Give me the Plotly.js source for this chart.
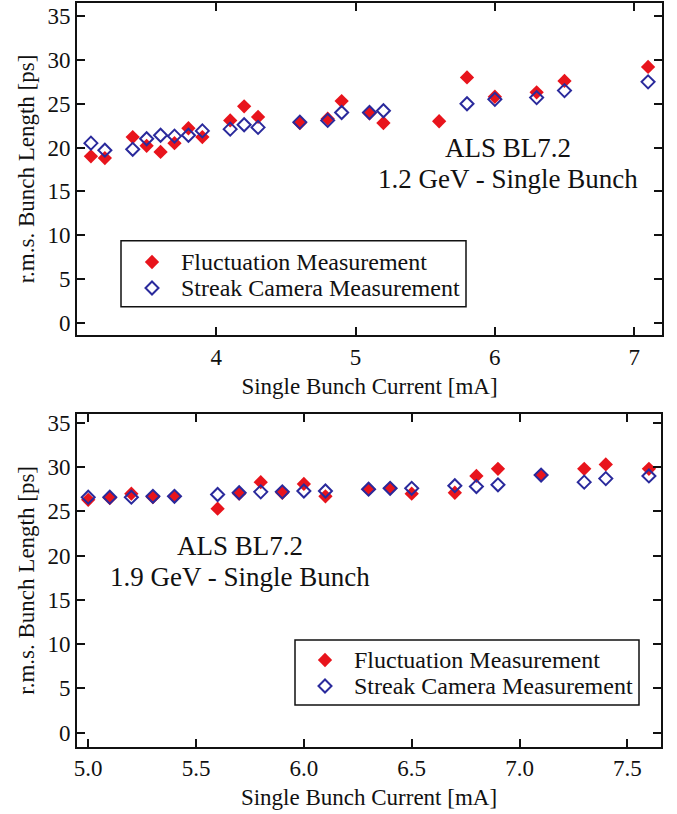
<!DOCTYPE html>
<html>
<head>
<meta charset="utf-8">
<script src="https://cdn.plot.ly/plotly-3.0.1.min.js"></script>
<style>html,body{margin:0;padding:0;background:#fff;}#chart{width:677px;height:814px;}</style>
</head>
<body>
<div id="chart"></div>
<script>
// Top panel: 1.2 GeV
const topFlucX = [3.1, 3.2, 3.4, 3.5, 3.6, 3.7, 3.8, 3.9, 4.1, 4.2, 4.3, 4.6, 4.8, 4.9, 5.1, 5.2, 5.6, 5.8, 6.0, 6.3, 6.5, 7.1];
const topFlucY = [19.0, 18.8, 21.2, 20.2, 19.5, 20.5, 22.2, 21.2, 23.1, 24.7, 23.5, 22.8, 23.3, 25.3, 23.9, 22.8, 23.0, 28.0, 25.8, 26.3, 27.6, 29.2];
const topStreakX = [3.1, 3.2, 3.4, 3.5, 3.6, 3.7, 3.8, 3.9, 4.1, 4.2, 4.3, 4.6, 4.8, 4.9, 5.1, 5.2, 5.8, 6.0, 6.3, 6.5, 7.1];
const topStreakY = [20.5, 19.7, 19.8, 21.0, 21.4, 21.3, 21.4, 21.9, 22.1, 22.6, 22.3, 22.9, 23.1, 24.0, 24.0, 24.2, 25.0, 25.5, 25.7, 26.5, 27.5];
// Bottom panel: 1.9 GeV
const botFlucX = [5.0, 5.1, 5.2, 5.3, 5.4, 5.6, 5.7, 5.8, 5.9, 6.0, 6.1, 6.3, 6.4, 6.5, 6.7, 6.8, 6.9, 7.1, 7.3, 7.4, 7.6];
const botFlucY = [26.3, 26.5, 27.0, 26.6, 26.7, 25.3, 27.0, 28.3, 27.1, 28.1, 26.7, 27.5, 27.6, 27.0, 27.1, 29.0, 29.8, 29.1, 29.8, 30.3, 29.8];
const botStreakX = [5.0, 5.1, 5.2, 5.3, 5.4, 5.6, 5.7, 5.8, 5.9, 6.0, 6.1, 6.3, 6.4, 6.5, 6.7, 6.8, 6.9, 7.1, 7.3, 7.4, 7.6];
const botStreakY = [26.6, 26.6, 26.6, 26.7, 26.7, 26.9, 27.1, 27.2, 27.2, 27.3, 27.3, 27.5, 27.6, 27.6, 27.9, 27.8, 28.0, 29.1, 28.3, 28.7, 29.0];

const flucName = 'Fluctuation Measurement';
const streakName = 'Streak Camera Measurement';
const topLabel = ['ALS BL7.2', '1.2 GeV - Single Bunch'];
const botLabel = ['ALS BL7.2', '1.9 GeV - Single Bunch'];
const xTitle = 'Single Bunch Current [mA]';
const yTitle = 'r.m.s. Bunch Length [ps]';
const yTicks = [0, 5, 10, 15, 20, 25, 30, 35];
const xTicksTop = [4, 5, 6, 7];
const xTicksBot = [5.0, 5.5, 6.0, 6.5, 7.0, 7.5];

const RED = '#e8141c';
const BLUE = '#2a2a9c';
const INK = '#111';
const FONT = 'Liberation Serif, Times New Roman, serif';

const flucMarker = {symbol: 'diamond', size: 11, color: RED, line: {width: 0}};
const streakMarker = {symbol: 'diamond-open', size: 10, color: BLUE, line: {width: 2, color: BLUE}};

const traces = [
  {x: topFlucX, y: topFlucY, type: 'scatter', mode: 'markers', name: flucName, marker: flucMarker, xaxis: 'x', yaxis: 'y'},
  {x: topStreakX, y: topStreakY, type: 'scatter', mode: 'markers', name: streakName, marker: streakMarker, xaxis: 'x', yaxis: 'y'},
  {x: botFlucX, y: botFlucY, type: 'scatter', mode: 'markers', name: flucName, marker: flucMarker, xaxis: 'x2', yaxis: 'y2'},
  {x: botStreakX, y: botStreakY, type: 'scatter', mode: 'markers', name: streakName, marker: streakMarker, xaxis: 'x2', yaxis: 'y2'}
];

const W = 677, H = 814;
const px = v => v / W;
const py = v => 1 - v / H;

const tfont = {family: FONT, size: 23, color: INK};
const axCommon = {
  showline: true, linewidth: 2, linecolor: INK, mirror: 'ticks',
  ticks: 'inside', ticklen: 8, tickwidth: 2, tickcolor: INK,
  showgrid: false, zeroline: false, fixedrange: true,
  tickfont: tfont
};

const layout = {
  width: W, height: H,
  margin: {l: 0, r: 0, t: 0, b: 0},
  paper_bgcolor: '#fff', plot_bgcolor: 'rgba(0,0,0,0)',
  showlegend: false,
  xaxis: Object.assign({}, axCommon, {domain: [px(77), px(662)], range: [3.0, 7.2], tickvals: xTicksTop, anchor: 'y',
    title: {text: xTitle, standoff: 9, font: {family: FONT, size: 23, color: INK}}}),
  yaxis: Object.assign({}, axCommon, {domain: [py(335), py(3)], range: [-1.4, 36.5], tickvals: yTicks, anchor: 'x',
    title: {text: yTitle, standoff: 6, font: {family: FONT, size: 23, color: INK}}}),
  xaxis2: Object.assign({}, axCommon, {domain: [px(77), px(661)], range: [4.948, 7.656], tickvals: xTicksBot, tickformat: '.1f', anchor: 'y2',
    title: {text: xTitle, standoff: 9, font: {family: FONT, size: 23, color: INK}}}),
  yaxis2: Object.assign({}, axCommon, {domain: [py(746.7), py(414)], range: [-1.6, 36.0], tickvals: yTicks, anchor: 'x2',
    title: {text: yTitle, standoff: 6, font: {family: FONT, size: 23, color: INK}}}),
  xaxis3: {domain: [0, 1], range: [0, 1], visible: false, anchor: 'y3', fixedrange: true},
  yaxis3: {domain: [0, 1], range: [0, 1], visible: false, anchor: 'x3', fixedrange: true},
  shapes: [
    {type: 'rect', xref: 'paper', yref: 'paper', x0: px(121), x1: px(466), y0: py(306.7), y1: py(240.7), line: {color: INK, width: 1.5}},
    {type: 'rect', xref: 'paper', yref: 'paper', x0: px(295), x1: px(639), y0: py(705), y1: py(640), line: {color: INK, width: 1.5}}
  ],
  annotations: []
};

function addLegend(xm, xt, y1, y2) {
  const f = {family: FONT, size: 24, color: INK};
  layout.annotations.push(
    {xref: 'paper', yref: 'paper', x: px(xt), y: py(y1), xanchor: 'left', yanchor: 'middle', showarrow: false, text: flucName, font: f},
    {xref: 'paper', yref: 'paper', x: px(xt), y: py(y2), xanchor: 'left', yanchor: 'middle', showarrow: false, text: streakName, font: f}
  );
  traces.push(
    {x: [px(xm)], y: [py(y1)], type: 'scatter', mode: 'markers', xaxis: 'x3', yaxis: 'y3', marker: flucMarker, hoverinfo: 'skip', cliponaxis: false},
    {x: [px(xm)], y: [py(y2)], type: 'scatter', mode: 'markers', xaxis: 'x3', yaxis: 'y3', marker: streakMarker, hoverinfo: 'skip', cliponaxis: false}
  );
}
addLegend(152, 179, 262, 288);
addLegend(325, 352, 660, 686);

function addLabel(lines, cx, y1, y2) {
  const f = {family: FONT, size: 27, color: INK};
  layout.annotations.push(
    {xref: 'paper', yref: 'paper', x: px(cx), y: py(y1), xanchor: 'center', yanchor: 'middle', showarrow: false, text: lines[0], font: f},
    {xref: 'paper', yref: 'paper', x: px(cx), y: py(y2), xanchor: 'center', yanchor: 'middle', showarrow: false, text: lines[1], font: f}
  );
}
addLabel(topLabel, 508, 148, 179);
addLabel(botLabel, 240, 546, 577);

Plotly.newPlot('chart', traces, layout, {displayModeBar: false, staticPlot: true});
</script>
</body>
</html>
